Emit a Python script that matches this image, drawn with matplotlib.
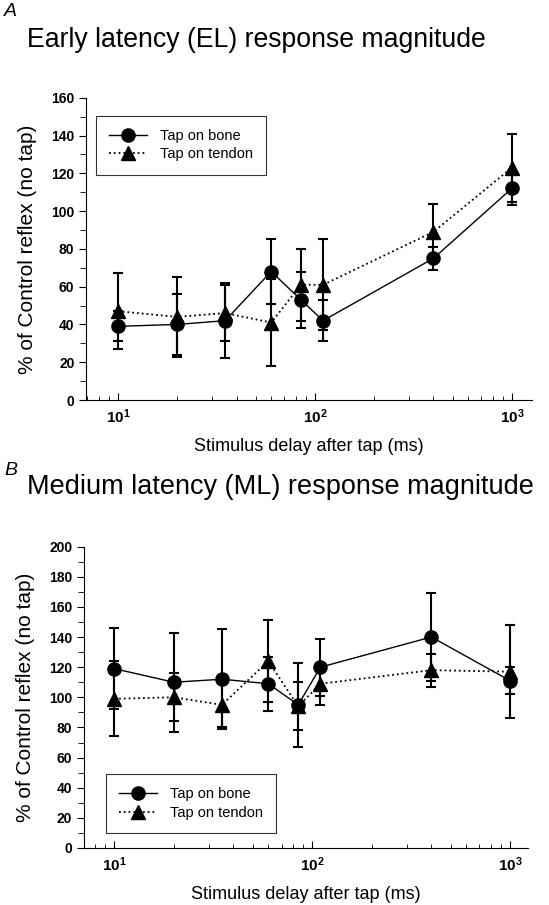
import matplotlib
matplotlib.use("Agg")
import matplotlib.pyplot as plt
from matplotlib.ticker import MultipleLocator, LogLocator

plt.rcParams['font.family'] = ['Liberation Sans', 'DejaVu Sans']

delays = [10, 20, 35, 60, 85, 110, 400, 1000]

# early latency (EL)
el_bone = [39, 40, 42, 68, 53, 42, 75, 112]
el_bone_err = [8, 16, 20, 17, 15, 11, 6, 9]
el_tendon = [47, 44, 46, 41, 61, 61, 89, 123]
el_tendon_err = [20, 21, 15, 23, 19, 24, 15, 18]

# medium latency (ML)
ml_bone = [119, 110, 112, 109, 95, 120, 140, 111]
ml_bone_err = [27, 33, 33, 18, 28, 19, 29, 9]
ml_tendon = [99, 100, 95, 124, 94, 109, 118, 117]
ml_tendon_err = [25, 16, 15, 27, 16, 14, 11, 31]

fig = plt.figure(figsize=(5.49, 9.05), dpi=100)


def panel(rect, bone, bone_err, tendon, tendon_err, ymax, xlim, leg_anchor):
    ax = fig.add_axes(rect)
    # error bars first, then lines + markers (so legend shows only line/marker)
    ax.errorbar(delays, bone, yerr=bone_err, fmt='none', ecolor='black',
                elinewidth=1.5, capsize=3.5, capthick=1.5)
    ax.errorbar(delays, tendon, yerr=tendon_err, fmt='none', ecolor='black',
                elinewidth=1.5, capsize=3.5, capthick=1.5)
    ax.plot(delays, bone, color='black', marker='o', markersize=9.5,
            linestyle='-', linewidth=1, label='Tap on bone')
    ax.plot(delays, tendon, color='black', marker='^', markersize=9.5,
            linestyle=':', linewidth=1.3, label='Tap on tendon')
    ax.set_xscale('log')
    ax.set_xlim(*xlim)
    ax.set_ylim(0, ymax)
    ax.yaxis.set_major_locator(MultipleLocator(20))
    ax.yaxis.set_minor_locator(MultipleLocator(10))
    ax.xaxis.set_major_locator(LogLocator(base=10))
    ax.xaxis.set_minor_locator(LogLocator(base=10, subs=range(2, 10)))
    for s in ['top', 'right']:
        ax.spines[s].set_visible(False)
    ax.tick_params(axis='y', which='major', direction='out', length=5, labelsize=10)
    ax.tick_params(axis='y', which='minor', direction='out', length=4)
    ax.tick_params(axis='x', which='major', direction='in', length=5, labelsize=11, pad=5)
    ax.tick_params(axis='x', which='minor', direction='in', length=3)
    for lab in ax.get_yticklabels() + ax.get_xticklabels():
        lab.set_fontweight('bold')
    ax.set_ylabel('% of Control reflex (no tap)', fontsize=15, labelpad=10)
    ax.set_xlabel('Stimulus delay after tap (ms)', fontsize=13, labelpad=9)
    leg = ax.legend(loc='upper left', bbox_to_anchor=leg_anchor, frameon=True,
                    fancybox=False, edgecolor='black', fontsize=10.5, handlelength=2.6,
                    borderpad=0.9, labelspacing=0.3, borderaxespad=0, handletextpad=0.9)
    leg.get_frame().set_linewidth(0.8)
    return ax


ax1 = panel([0.157, 0.558, 0.812, 0.334], el_bone, el_bone_err, el_tendon, el_tendon_err,
            160, (6.9, 1265), (0.022, 0.94))
ax2 = panel([0.153, 0.063, 0.809, 0.333], ml_bone, ml_bone_err, ml_tendon, ml_tendon_err,
            200, (7.03, 1233), (0.05, 0.245))

fig.text(0.008, 0.987, 'A', fontsize=14, style='italic', va='center')
fig.text(0.05, 0.956, 'Early latency (EL) response magnitude', fontsize=19.2, va='center')
fig.text(0.008, 0.480, 'B', fontsize=14, style='italic', va='center')
fig.text(0.05, 0.462, 'Medium latency (ML) response magnitude', fontsize=19.5, va='center')

fig.savefig('out.png', dpi=100)
